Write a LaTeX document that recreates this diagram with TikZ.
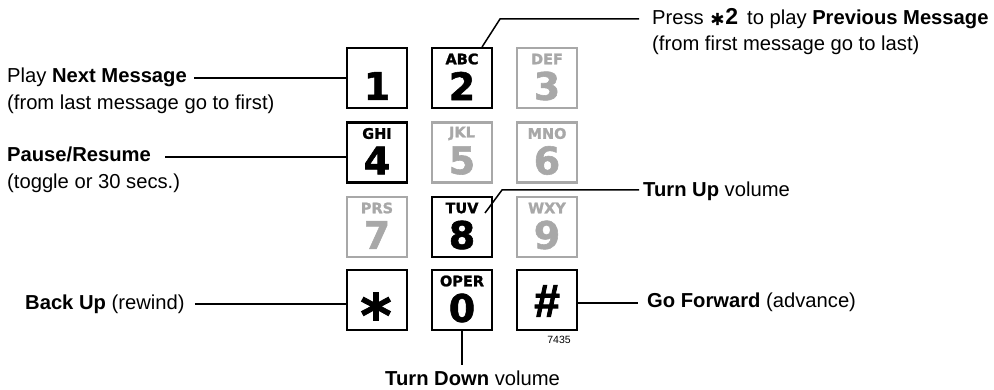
\documentclass[tikz,border=0pt]{standalone}
\usepackage{fontspec}
\setmainfont{Liberation Sans}
\newfontfamily\padfont{DejaVu Sans Bold}[FakeBold=1.5]
\newfontfamily\hashfont{Liberation Sans Bold}[FakeBold=2]
\usetikzlibrary{positioning}
\definecolor{keygray}{RGB}{168,168,168}

\begin{document}
\begin{tikzpicture}[x=1pt,y=-1pt]
\tikzstyle{every node}+=[inner sep=0pt]
\tikzstyle{key}=[draw=black,line width=2.2pt,minimum size=60pt]
\tikzstyle{offkey}=[key,draw=keygray]
\tikzstyle{digit}=[font=\padfont\fontsize{38}{38}\selectfont]
\tikzstyle{abc}=[font=\padfont\fontsize{14.5}{14.5}\selectfont]
\tikzstyle{lbl}=[anchor=base west,font=\fontsize{20.2}{23}\selectfont]
\tikzstyle{lead}=[line width=1.5pt]
\useasboundingbox (0,0) rectangle (994,390);
\node [key] (k1) at (377,78) {};
\node [digit] (d1) at (377,86) {1};
\node [key] (k2) at (462,78) {};
\node [abc] (l2) at (462,59) {ABC};
\node [digit] (d2) at (462,86) {2};
\node [offkey] (k3) at (547,78) {};
\node [abc,keygray] (l3) at (547,59) {DEF};
\node [digit,keygray] (d3) at (547,86) {3};
\node [key] (k4) at (377,152.5) {};
\node [abc] (l4) at (377,133.5) {GHI};
\node [digit] (d4) at (377,160.5) {4};
\node [offkey] (k5) at (462,152.5) {};
\node [abc,keygray] (l5) at (462,133.5) {JKL};
\node [digit,keygray] (d5) at (462,160.5) {5};
\node [offkey] (k6) at (547,152.5) {};
\node [abc,keygray] (l6) at (547,133.5) {MNO};
\node [digit,keygray] (d6) at (547,160.5) {6};
\node [offkey] (k7) at (377,227) {};
\node [abc,keygray] (l7) at (377,208) {PRS};
\node [digit,keygray] (d7) at (377,235) {7};
\node [key] (k8) at (462,227) {};
\node [abc] (l8) at (462,208) {TUV};
\node [digit] (d8) at (462,235) {8};
\node [offkey] (k9) at (547,227) {};
\node [abc,keygray] (l9) at (547,208) {WXY};
\node [digit,keygray] (d9) at (547,235) {9};
\node [key] (ks) at (377,300) {};
\node [anchor=base,font=\padfont\fontsize{60}{60}\selectfont] (ds) at (376,337) {*};
\node [key] (k0) at (462,300) {};
\node [abc] (l0) at (462,281) {OPER};
\node [digit] (d0) at (462,308) {0};
\node [key] (kh) at (547,300) {};
\node [font=\hashfont\fontsize{46}{46}\selectfont] (dh) at (547,301) {\#};
\node [font=\fontsize{10.5}{12}\selectfont] (num) at (559,340) {7435};
\node [lbl] (nxt) at (7,83) {Play \textbf{Next Message}};
\node [lbl] (nxt2) at (7,110) {(from last message go to first)};
\node [lbl] (pau) at (7,162) {\textbf{Pause/Resume}};
\node [lbl] (pau2) at (7,189) {(toggle or 30 secs.)};
\node [lbl] (bck) at (25,309) {\textbf{Back Up} (rewind)};
\node [lbl] (prv) at (652,25) {Press {\padfont\fontsize{19}{19}\selectfont ∗}\textbf{\fontsize{23}{23}\selectfont 2}\, to play \textbf{Previous Message}};
\node [lbl] (prv2) at (652,51) {(from first message go to last)};
\node [lbl] (tup) at (643,197) {\textbf{Turn Up} volume};
\node [lbl] (fwd) at (647,308) {\textbf{Go Forward} (advance)};
\node [lbl] (tdn) at (385,385) {\textbf{Turn Down} volume};
\coordinate (prbend) at (500,19);
\coordinate (tubend) at (502,190);
\coordinate (tuend) at (485,213);
\draw [lead] ([xshift=7pt]nxt.east |- k1.west) -- (k1.west);
\draw [lead] ([xshift=14pt,yshift=-2pt]pau.east) coordinate (pstart) -- (pstart -| k4.west);
\draw [lead] ([xshift=10pt]bck.east) -- (bck.east -| ks.west);
\draw [lead] ([xshift=-11pt]k2.north east) -- (prbend) -- ([xshift=-13pt]prv.west |- prbend);
\draw [lead] (tuend) -- (tubend) -- ([xshift=-4pt]tup.west |- tubend);
\draw [lead] (fwd.west -| kh.east) -- ([xshift=-9pt]fwd.west);
\draw [lead] (k0.south) -- ([yshift=5pt]tdn.north -| k0.south);
\end{tikzpicture}
\end{document}
